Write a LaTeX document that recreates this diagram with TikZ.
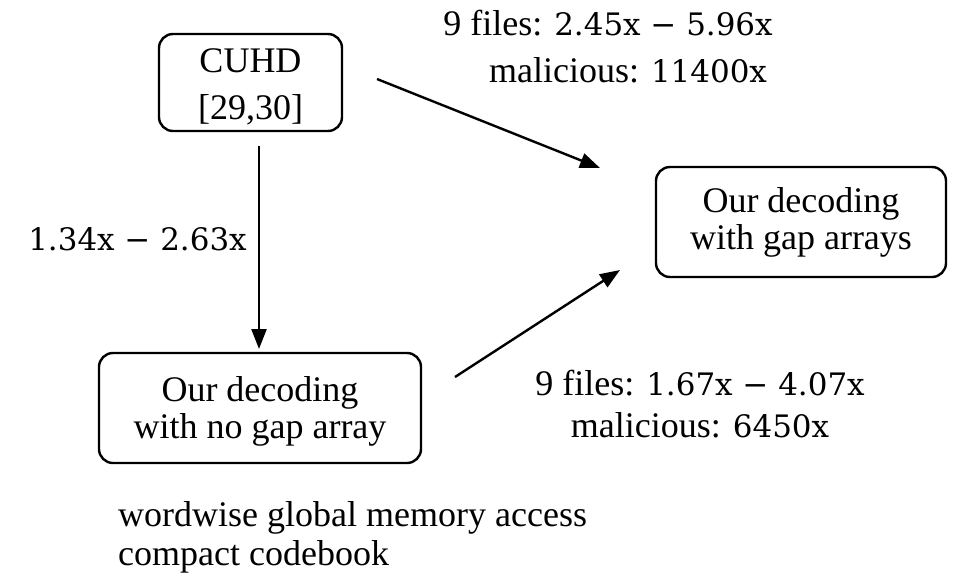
\documentclass[tikz,border=0pt]{standalone}
\usepackage{fontspec}
\setmainfont{Liberation Serif}
\newfontfamily\numfont{DejaVu Serif}[Scale=0.86]
\usetikzlibrary{arrows.meta}

% stacked lines of a box, set a little below the box's middle
\newcommand\boxlines[2][4pt]{\raisebox{-#1}[\height][\depth]{\begin{tabular}{@{}c@{}}#2\end{tabular}}}

\tikzset{
  flowbox/.style={draw=black, line width=2.4pt, rounded corners=14pt,
    inner sep=0pt, font=\fontsize{36}{37}\selectfont},
  flowarrow/.style={line width=2.4pt,
    -{Triangle[length=20pt,width=15pt]}},
  speedup/.style={anchor=base, inner sep=0pt, font=\fontsize{36}{40}\selectfont},
}

\begin{document}
\begin{tikzpicture}[x=1pt, y=-1pt]
\useasboundingbox (0,0) rectangle (953,579);

% boxes
\node[flowbox, minimum width=183pt, minimum height=97pt, font=\fontsize{36}{47}\selectfont]
  (cuhd) at (250.5,82.5) {\boxlines{CUHD\\{}[29,30]}};
\node[flowbox, minimum width=290pt, minimum height=110pt]
  (gap) at (801,222) {\boxlines[2pt]{Our decoding\\with gap arrays}};
\node[flowbox, minimum width=322pt, minimum height=110pt]
  (nogap) at (260,408) {\boxlines[5pt]{Our decoding\\with no gap array}};

% arrow end points
\coordinate (a1s) at (377,79);
\coordinate (a1e) at (600,168);
\coordinate (a2s) at (259,146);
\coordinate (a2e) at (259,349);
\coordinate (a3s) at (455,377);
\coordinate (a3e) at (620,270);

\draw[flowarrow] (a1s) -- (a1e);
\draw[flowarrow] (a2s) -- (a2e);
\draw[flowarrow] (a3s) -- (a3e);

% speed-up labels
\node[speedup] (t1) at (608,35) {9 files: {\numfont 2.45x − 5.96x}};
\node[speedup] (t2) at (628,82) {malicious: {\numfont 11400x}};
\node[speedup] (l1) at (137.5,250) {\numfont 1.34x − 2.63x};
\node[speedup] (b1) at (700,395) {9 files: {\numfont 1.67x − 4.07x}};
\node[speedup] (b2) at (700,437) {malicious: {\numfont 6450x}};

% notes
\node[speedup, anchor=base west] (n1) at (118,526) {wordwise global memory access};
\node[speedup, anchor=base west] (n2) at (118,565) {compact codebook};
\end{tikzpicture}
\end{document}
